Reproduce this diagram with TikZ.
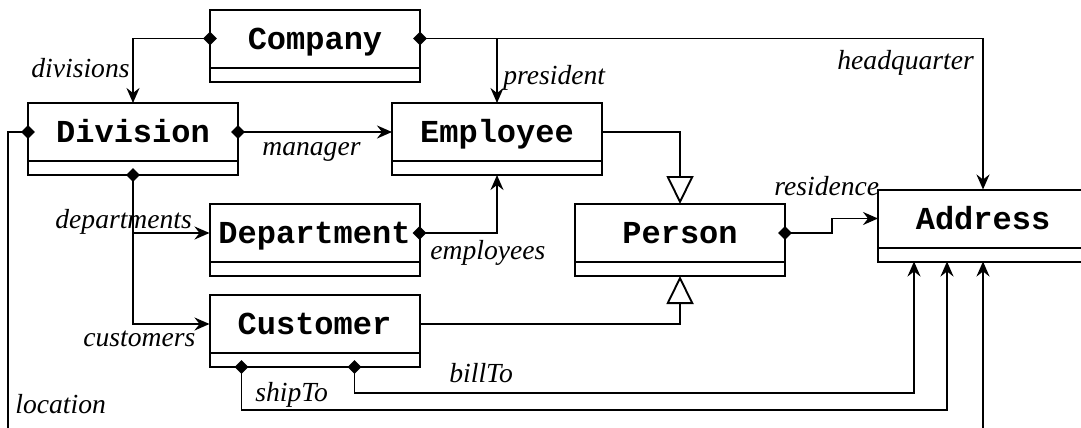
\documentclass[tikz,border=0pt]{standalone}
\usepackage{fontspec}
\setmainfont{Liberation Serif}
\setmonofont{Liberation Mono}
\usetikzlibrary{arrows.meta,shapes.geometric}
\tikzset{
  clsname/.style={draw, line width=1pt, outer sep=0pt, minimum width=105pt, minimum height=29pt, inner sep=0pt, text height=10.5pt, text depth=0pt, font=\fontsize{16}{18}\selectfont\ttfamily\bfseries},
  clsattr/.style={draw, line width=1pt, outer sep=0pt, minimum width=105pt, minimum height=7pt, inner sep=0pt, anchor=north},
  dia/.style={diamond, fill=black, draw=none, inner sep=0pt, minimum width=7pt, minimum height=7pt},
  conn/.style={line width=0.95pt},
  assoc/.style={conn, -{Stealth[length=7.5pt,width=6.5pt,inset=2.5pt]}},
  inherit/.style={conn, -{Triangle[open,length=14pt,width=13.5pt]}},
  lbl/.style={inner sep=0pt, anchor=base west, font=\fontsize{13.8}{16}\selectfont\itshape}
}
\begin{document}
\begin{tikzpicture}[x=0.5pt,y=-0.5pt]
\useasboundingbox (0,0) rectangle (1081,428);
\clip (0,0) rectangle (1081,428);
% classes
\node[clsname] (company) at (315,38.5) {Company};
\node[clsattr] (companyA) at (company.south) {};
\node[clsname] (division) at (133,132) {Division};
\node[clsattr] (divisionA) at (division.south) {};
\node[clsname] (employee) at (497,132) {Employee};
\node[clsattr] (employeeA) at (employee.south) {};
\node[clsname] (department) at (314.5,233) {Department};
\node[clsattr] (departmentA) at (department.south) {};
\node[clsname] (customer) at (314.5,324) {Customer};
\node[clsattr] (customerA) at (customer.south) {};
\node[clsname] (person) at (680,233) {Person};
\node[clsattr] (personA) at (person.south) {};
\node[clsname] (address) at (983,218.5) {Address};
\node[clsattr] (addressA) at (address.south) {};
\coordinate (locbot) at (8,470);
% connectors
\draw[assoc] (company.west) -| (division.north);
\draw[assoc] (company.east) -| (address.north);
\draw[assoc] (company.east -| employee.north) -- (employee.north);
\draw[assoc] (division.east) -- (employee.west);
\draw[assoc] (division.west) -| (locbot) -| (addressA.south);
\draw[assoc] (divisionA.south) |- (customer.west);
\draw[assoc] (divisionA.south |- department.west) -- (department.west);
\draw[assoc] (department.east) -| (employeeA.south);
\draw[inherit] (employee.east) -| (person.north);
\draw[inherit] (customer.east) -| (personA.south);
\draw[assoc] (person.east) -- ++(47,0) |- (address.west);
\draw[assoc] ([xshift=72.5pt]customerA.south west) -- ++(0,26) -| ([xshift=18pt]addressA.south west);
\draw[assoc] ([xshift=16pt]customerA.south west) -- ++(0,43) -| ([xshift=34.5pt]addressA.south west);
% diamonds
\node[dia] (d1) at (company.west) {};
\node[dia] (d2) at (company.east) {};
\node[dia] (d3) at (division.east) {};
\node[dia] (d4) at (division.west) {};
\node[dia] (d5) at (divisionA.south) {};
\node[dia] (d6) at (department.east) {};
\node[dia] (d7) at (person.east) {};
\node[dia] (d8) at ([xshift=72.5pt]customerA.south west) {};
\node[dia] (d9) at ([xshift=16pt]customerA.south west) {};
% labels
\node[lbl] (l1) at (31,77) {divisions};
\node[lbl] (l2) at (503,84) {president};
\node[lbl] (l3) at (837,69) {headquarter};
\node[lbl] (l4) at (262,155) {manager};
\node[lbl] (l5) at (55,228) {departments};
\node[lbl] (l6) at (83,346) {customers};
\node[lbl] (l7) at (430,259) {employees};
\node[lbl] (l8) at (774,195) {residence};
\node[lbl] (l9) at (449,382) {billTo};
\node[lbl] (l10) at (255,401) {shipTo};
\node[lbl] (l11) at (15,413) {location};
\end{tikzpicture}
\end{document}
